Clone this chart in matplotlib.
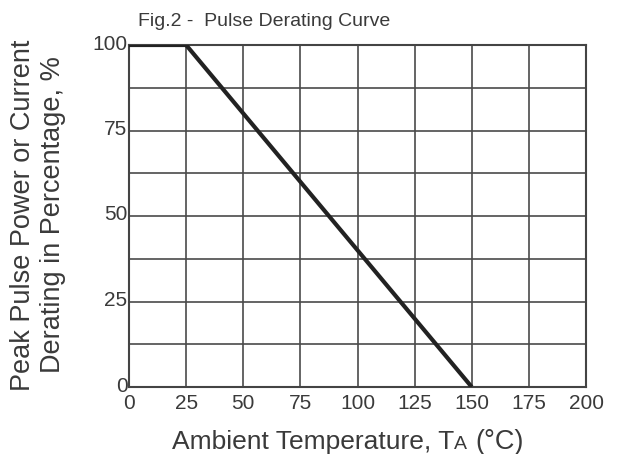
import matplotlib.pyplot as plt
from matplotlib.transforms import offset_copy

# derating curve points
temp = [0, 25, 150]
percent = [100, 100, 0]

x_ticks = [0, 25, 50, 75, 100, 125, 150, 175, 200]
y_ticks = [0, 25, 50, 75, 100]
y_grid = [12.5, 37.5, 62.5, 87.5]

plt.rcParams['font.family'] = ['Liberation Sans', 'DejaVu Sans']
txt_color = '#3a3a3a'

fig = plt.figure(figsize=(6.21, 4.54), dpi=100)
ax = fig.add_axes([129 / 621, 67 / 454, 457 / 621, 342 / 454])

ax.plot(temp, percent, color='#222222', linewidth=3.0, solid_capstyle='butt', zorder=3)

ax.set_xlim(0, 200)
ax.set_ylim(0, 100)
ax.set_xticks(x_ticks)
ax.set_yticks(y_ticks)
ax.set_yticks(y_grid, minor=True)
ax.grid(True, which='both', color='#4a4a4a', linewidth=1.2)
ax.tick_params(which='both', length=0, labelsize=15, colors=txt_color)
ax.tick_params(axis='x', pad=5)
ax.tick_params(axis='y', pad=1)
for s in ax.spines.values():
    s.set_color('#444444')
    s.set_linewidth(1.5)
# y labels sit a little above their grid lines
for lbl in ax.get_yticklabels():
    lbl.set_transform(offset_copy(lbl.get_transform(), fig=fig, x=0, y=3, units='dots'))

# y axis title, two lines
fig.text(38 / 621, 1 - 215 / 454, 'Peak Pulse Power or Current\nDerating in Percentage, %',
         fontsize=19.5, color=txt_color, rotation=90, ha='center', va='center',
         linespacing=1.2, multialignment='center')

# x axis title with small "A" after T
fig.canvas.draw()
r = fig.canvas.get_renderer()
y_base = 1 - 449 / 454
x0 = 172
t1 = fig.text(x0 / 621, y_base, 'Ambient Temperature, T', fontsize=19, color=txt_color,
              ha='left', va='baseline')
w1 = t1.get_window_extent(r).width
t2 = fig.text((x0 + w1) / 621, y_base, 'A', fontsize=14, color=txt_color,
              ha='left', va='baseline')
w2 = t2.get_window_extent(r).width
fig.text((x0 + w1 + w2 + 8) / 621, y_base, '(°C)', fontsize=19.5, color=txt_color,
         ha='left', va='baseline')

fig.text(138 / 621, 1 - 21 / 454, 'Fig.2 -  Pulse Derating Curve', fontsize=14,
         color=txt_color, va='center', ha='left')

plt.savefig('out.png', dpi=100)
